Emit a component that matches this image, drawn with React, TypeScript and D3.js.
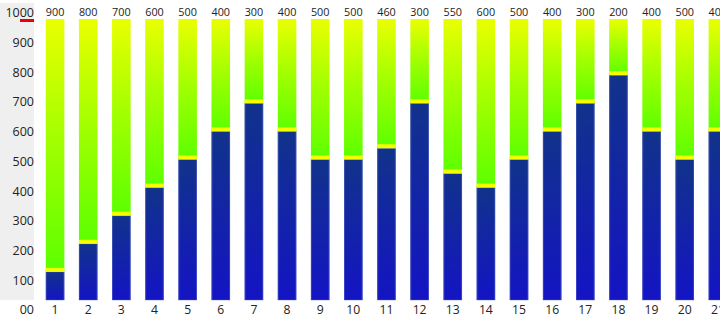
import React from "react";
import * as d3 from "d3";

const categories = ["1","2","3","4","5","6","7","8","9","10","11","12","13","14","15","16","17","18","19","20","21"];
const filledValues = [100,200,300,400,500,600,700,600,500,500,540,700,450,400,500,600,700,800,600,500,600];
const remainingValues = [900,800,700,600,500,400,300,400,500,500,460,300,550,600,500,400,300,200,400,500,400];
const yTickValues = [0,100,200,300,400,500,600,700,800,900,1000];
const yTickLabels = ["00","100","200","300","400","500","600","700","800","900","1000"];
const totalMax = 1000;

const W = 720, H = 324;

export default function App() {
  const x = d3.scaleBand<string>().domain(categories).range([38.5, 38.5 + 33.14 * categories.length]).paddingInner(0.44).paddingOuter(0.22);
  const y = d3.scaleLinear().domain([0, totalMax]).range([300, 19]);
  const yLab = d3.scaleLinear().domain([0, totalMax]).range([310, 13]);
  const font = "'Open Sans', 'Segoe UI', sans-serif";
  return (
    <svg width={W} height={H} style={{ position: "absolute", left: 0, top: 0 }} fontFamily={font}>
      <defs>
        <linearGradient id="gGreen" x1="0" y1="0" x2="0" y2="1">
          <stop offset="0" stopColor="#eaff00" />
          <stop offset="0.45" stopColor="#a6ff00" />
          <stop offset="1" stopColor="#5cff00" />
        </linearGradient>
        <linearGradient id="gBlue" x1="0" y1="0" x2="0" y2="1">
          <stop offset="0" stopColor="#11338a" />
          <stop offset="1" stopColor="#1414c4" />
        </linearGradient>
      </defs>
      <rect x={0} y={3} width={34} height={297} fill="#efefef" />
      <rect x={20} y={19} width={14} height={3} fill="#ee0000" />
      {yTickValues.map((v, i) => (
        <text key={"yt" + v} x={34} y={yLab(v)} dy="0.35em" textAnchor="end" fontSize={12.5} fill="#222">{yTickLabels[i]}</text>
      ))}
      {categories.map((c, i) => {
        const bx = x(c)!;
        const bw = x.bandwidth();
        const yTop = y(filledValues[i]);
        return (
          <g key={c}>
            <rect x={bx} y={y(totalMax)} width={bw} height={yTop - y(totalMax)} fill="url(#gGreen)" />
            <rect x={bx} y={yTop} width={bw} height={y(0) - yTop} fill="url(#gBlue)" />
            <rect x={bx + 0.5} y={yTop} width={bw - 1} height={y(0) - yTop} fill="none" stroke="#5a70c8" strokeOpacity={0.45} strokeWidth={1} />
            <rect x={bx} y={yTop - 4} width={bw} height={4} fill="#f4ff00" />
            <text x={bx + bw / 2} y={12} dy="0.35em" textAnchor="middle" fontSize={10.8} fill="#222">{remainingValues[i]}</text>
            <text x={bx + bw / 2} y={310} dy="0.35em" textAnchor="middle" fontSize={12.2} fill="#222">{c}</text>
          </g>
        );
      })}
    </svg>
  );
}
